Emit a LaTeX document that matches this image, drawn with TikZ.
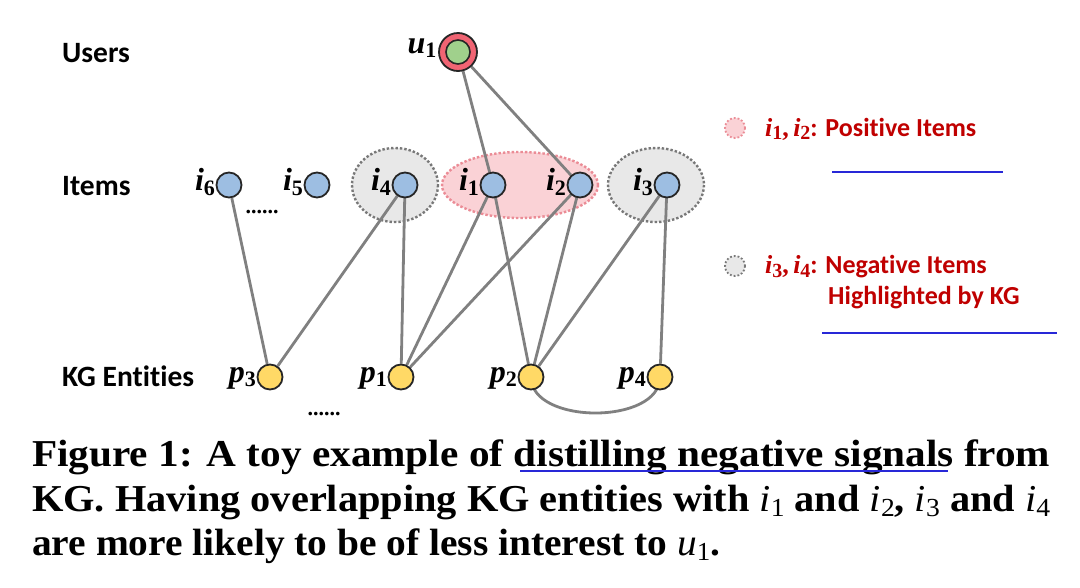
\documentclass[tikz,border=0pt]{standalone}
\usepackage{fontspec}
\usepackage{graphicx}
\setmainfont{Liberation Serif}
\newfontfamily\calib[Ligatures=NoCommon]{Carlito}
\pgfdeclarelayer{bgA}
\pgfdeclarelayer{bgB}
\pgfsetlayers{bgA,bgB,main}
\definecolor{itemblue}{RGB}{157,190,226}
\definecolor{entyellow}{RGB}{255,217,102}
\definecolor{usergreen}{RGB}{160,208,140}
\definecolor{userred}{RGB}{240,100,115}
\definecolor{edgegray}{RGB}{128,128,128}
\definecolor{posfill}{RGB}{250,210,214}
\definecolor{posline}{RGB}{235,140,150}
\definecolor{negfill}{RGB}{232,232,232}
\definecolor{negline}{RGB}{120,120,120}
\definecolor{legred}{RGB}{192,0,0}
\definecolor{ulblue}{RGB}{40,40,215}
\newcommand\mlab[2]{{\bfseries\itshape #1}\raisebox{-0.3ex}{\fontsize{22}{22}\selectfont\bfseries #2}}
\newcommand\slab[2]{{\bfseries\itshape #1}\raisebox{-0.3ex}{\fontsize{20}{20}\selectfont\bfseries #2}}
\newcommand\clab[2]{{\mdseries\itshape #1}\raisebox{-0.3ex}{\fontsize{26}{26}\selectfont\mdseries #2}}
\tikzset{
  itemnode/.style={circle, draw=black!85, line width=1.8pt, fill=itemblue, minimum size=25pt, inner sep=0pt},
  entnode/.style={circle, draw=black!85, line width=1.8pt, fill=entyellow, minimum size=25pt, inner sep=0pt},
  edge/.style={draw=edgegray, line width=2.8pt},
  lab/.style={font=\fontsize{32}{32}\selectfont, inner sep=0.5pt, anchor=east},
  rowlab/.style={font=\calib\bfseries\fontsize{29.5}{29.5}\selectfont, anchor=base west, inner sep=0pt},
  legtext/.style={text=legred, font=\calib\bfseries\fontsize{26}{26}\selectfont, inner sep=0pt},
  posell/.style={fill=posfill, draw=posline, dotted, line width=2.4pt},
  negell/.style={fill=negfill, draw=negline, dotted, line width=2.4pt},
  dotsnode/.style={font=\bfseries\fontsize{22}{22}\selectfont, inner sep=0pt},
  capline/.style={font=\bfseries\fontsize{38}{38}\selectfont, anchor=base west, inner sep=0pt},
  ulline/.style={draw=ulblue, line width=2.8pt}
}
\begin{document}
\begin{tikzpicture}[x=1pt,y=-1pt]
\useasboundingbox (0,0) rectangle (1080,587);
\begin{pgfonlayer}{bgA}
  \fill[white] (0,0) rectangle (1080,587);
\end{pgfonlayer}

% row labels
\node[rowlab] (lusers) at (62,62) {Users};
\node[rowlab] (litems) at (62,195) {Items};
\node[rowlab] (lkg) at (62,386) {KG Entities};

% user
\node[circle, draw=black!85, line width=1.8pt, fill=userred, minimum size=38pt, inner sep=0pt] (u1) at (458,52) {};
\node[circle, draw=black!85, line width=1.6pt, fill=usergreen, minimum size=24pt, inner sep=0pt] (u1in) at (458,52) {};
\node[lab] (lu1) at ([xshift=-1pt,yshift=4pt]u1.west) {\mlab{u}{1}};

% items
\node[itemnode] (i6) at (229,185) {};
\node[itemnode] (i5) at (317,185) {};
\node[itemnode] (i4) at (405,185) {};
\node[itemnode] (i1) at (493,185) {};
\node[itemnode] (i2) at (580,185) {};
\node[itemnode] (i3) at (667,185) {};
\foreach \n/\d in {i6/6,i5/5,i4/4,i1/1,i2/2,i3/3}
  \node[lab] (l\n) at ([yshift=3pt]\n.west) {\mlab{i}{\d}};
\node[dotsnode] (dotsA) at (262,212) {......};

% entities
\node[entnode] (p3) at (270,377) {};
\node[entnode] (p1) at (401,377) {};
\node[entnode] (p2) at (531,377) {};
\node[entnode] (p4) at (660,377) {};
\foreach \n/\d in {p3/3,p1/1,p2/2,p4/4}
  \node[lab] (l\n) at ([yshift=-1pt]\n.west) {\mlab{p}{\d}};
\node[dotsnode] (dotsB) at (324,414) {......};

% highlight ellipses
\begin{pgfonlayer}{bgA}
  \draw[negell] (395,185) ellipse [x radius=43, y radius=37];
  \draw[posell] (520,185) ellipse [x radius=78, y radius=33];
  \draw[negell] (656,185) ellipse [x radius=48, y radius=37];
\end{pgfonlayer}

% edges
\begin{pgfonlayer}{bgB}
  \draw[edge] (u1) -- (i1);
  \draw[edge] (u1) -- (i2);
  \draw[edge] (i6) -- (p3);
  \draw[edge] (i4.center) -- (p3);
  \draw[edge] (i4.center) -- (p1);
  \draw[edge] (i1.center) -- (p1);
  \draw[edge] (i1.center) -- (p2);
  \draw[edge] (i2.center) -- (p1);
  \draw[edge] (i2.center) -- (p2);
  \draw[edge] (i3.center) -- (p2);
  \draw[edge] (i3.center) -- (p4);
  \draw[edge] (p2.center) .. controls (531,425) and (660,425) .. (p4.center);
\end{pgfonlayer}

% legend
\draw[posell, line width=1.8pt] (735,128) circle [radius=10];
\node[legtext, anchor=west] (legpos) at (765,129) {\fontspec{Liberation Serif}\slab{i}{1},\,\slab{i}{2}\calib: Positive Items};
\draw[negell, line width=1.8pt] (735,266) circle [radius=10];
\node[legtext, anchor=west] (legneg) at (765,267) {\fontspec{Liberation Serif}\slab{i}{3},\,\slab{i}{4}\calib: Negative Items};
\node[legtext, anchor=west] (legneg2) at (828,298) {Highlighted by KG};
\coordinate (ulA1) at (832,172);
\coordinate (ulA2) at (1003,172);
\draw[ulline] (ulA1) -- (ulA2);
\coordinate (ulB1) at (822,333);
\coordinate (ulB2) at (1057,333);
\draw[ulline] (ulB1) -- (ulB2);

% caption
\node[capline] (cap1) at (32,466) {\resizebox{1018pt}{\height}{Figure 1: A toy example of distilling negative signals from}};
\node[capline] (cap2) at (32,511) {\resizebox{1018pt}{\height}{KG. Having overlapping KG entities with \clab{i}{1} and \clab{i}{2}, \clab{i}{3} and \clab{i}{4}}};
\node[capline] (cap3) at (32,555) {\resizebox{688pt}{\height}{are more likely to be of less interest to \clab{u}{1}.}};
\coordinate (ulC1) at (520,471);
\coordinate (ulC2) at (948,471);
\draw[ulline] (ulC1) -- (ulC2);
\end{tikzpicture}
\end{document}
